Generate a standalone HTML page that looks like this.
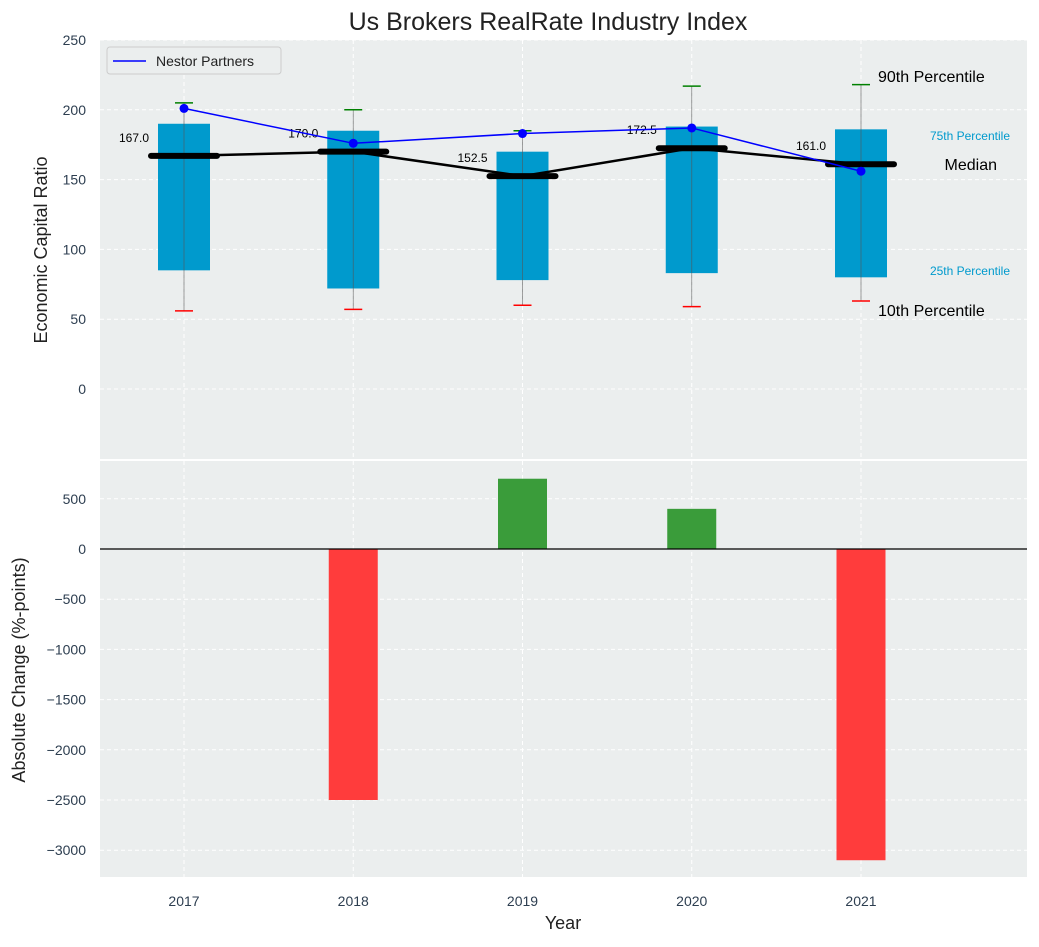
<!DOCTYPE html>
<html><head><meta charset="utf-8"><style>
body{margin:0;background:#fff;font-family:"Liberation Sans","DejaVu Sans",sans-serif}
svg text{font-family:"Liberation Sans","DejaVu Sans",sans-serif}
</style></head><body>
<svg id="chart" width="1039" height="942" xmlns="http://www.w3.org/2000/svg">
<rect width="1039" height="942" fill="#fff"/>
<text x="548" y="30" text-anchor="middle" font-size="25" fill="#222">Us Brokers RealRate Industry Index</text>
<g id="topPanel"></g>
<g id="botPanel"></g>
</svg>
<script>
const years=[2017,2018,2019,2020,2021];
const p10=[56,57,60,59,63];
const p25=[85,72,78,83,80];
const med=[167,170,152.5,172.5,161];
const p75=[190,185,170,188,186];
const p90=[205,200,185,217,218];
const nestor=[201,176,183,187,156];
const change=[0,-2500,700,400,-3100];
const topTicks=[0,50,100,150,200,250];
const botTicks=[500,0,-500,-1000,-1500,-2000,-2500,-3000];

const NS="http://www.w3.org/2000/svg";
function el(parent,tag,attrs,text){const e=document.createElementNS(NS,tag);for(const k in attrs)e.setAttribute(k,attrs[k]);if(text!==undefined)e.textContent=text;parent.appendChild(e);return e;}
const L=100,R=1027;
const x=v=>184+(v-2017)*169.25;
const yT=v=>389-v*1.396;
const yB=v=>549-v*0.1004;
const topG=document.getElementById('topPanel'),botG=document.getElementById('botPanel');

let bg=el(topG,'rect',{x:L,y:40,width:R-L,height:419,fill:'#ebeeee'});


topTicks.forEach(t=>{
  el(topG,'line',{x1:L,x2:R,y1:yT(t),y2:yT(t),stroke:'#fff','stroke-dasharray':'4,3'});
  let tx=el(topG,'text',{x:L-14,y:yT(t)+5,'text-anchor':'end','font-size':14,fill:'#2d3e50'},t);
  
  
});
years.forEach(yr=>el(topG,'line',{x1:x(yr),x2:x(yr),y1:40,y2:459,stroke:'#fff','stroke-dasharray':'4,3'}));
years.forEach((yr,i)=>{
  const cx=x(yr);
  let b=el(topG,'rect',{x:cx-26,y:yT(p75[i]),width:52,height:yT(p25[i])-yT(p75[i]),fill:'#009acd'});
  
  
  el(topG,'line',{x1:cx,x2:cx,y1:yT(p90[i]),y2:yT(p10[i]),stroke:'#555','stroke-width':0.8,opacity:0.7});
  el(topG,'line',{x1:cx-9,x2:cx+9,y1:yT(p90[i]),y2:yT(p90[i]),stroke:'green','stroke-width':1.5});
  el(topG,'line',{x1:cx-9,x2:cx+9,y1:yT(p10[i]),y2:yT(p10[i]),stroke:'red','stroke-width':1.5});
  let m=el(topG,'line',{x1:cx-33,x2:cx+33,y1:yT(med[i]),y2:yT(med[i]),stroke:'#000','stroke-width':6,'stroke-linecap':'round'});
  
  
  let ml=el(topG,'text',{x:cx-50,y:yT(med[i])-14,'text-anchor':'middle','font-size':12,fill:'#000'},med[i].toFixed(1));
  
  
});
el(topG,'polyline',{points:years.map((yr,i)=>x(yr)+','+yT(med[i])).join(' '),fill:'none',stroke:'#000','stroke-width':2.5});
let nl=el(topG,'polyline',{points:years.map((yr,i)=>x(yr)+','+yT(nestor[i])).join(' '),fill:'none',stroke:'blue','stroke-width':1.5});


years.forEach((yr,i)=>el(topG,'circle',{cx:x(yr),cy:yT(nestor[i]),r:4.5,fill:'blue'}));
[['90th Percentile',878,82,16,'#000','start'],['75th Percentile',1010,140,12,'#009acd','end'],['Median',997,170,16,'#000','end'],['25th Percentile',1010,275,12,'#009acd','end'],['10th Percentile',878,316,16,'#000','start']].forEach(a=>{
  let t=el(topG,'text',{x:a[1],y:a[2],'font-size':a[3],fill:a[4],'text-anchor':a[5]},a[0]);
  
  
});
let lg=el(topG,'g',{});


el(lg,'rect',{x:107,y:47,width:174,height:27,fill:'#ebeeee',stroke:'#ccc',rx:3});
el(lg,'line',{x1:113,x2:146,y1:61,y2:61,stroke:'blue','stroke-width':1.5});
el(lg,'text',{x:156,y:66,'font-size':14,fill:'#222'},'Nestor Partners');
let yl=el(topG,'text',{x:47,y:250,'text-anchor':'middle','font-size':18,fill:'#222',transform:'rotate(-90 47 250)'},'Economic Capital Ratio');



let bg2=el(botG,'rect',{x:L,y:461,width:R-L,height:416,fill:'#ebeeee'});


botTicks.forEach(t=>{
  el(botG,'line',{x1:L,x2:R,y1:yB(t),y2:yB(t),stroke:'#fff','stroke-dasharray':'4,3'});
  let tx=el(botG,'text',{x:L-14,y:yB(t)+5,'text-anchor':'end','font-size':14,fill:'#2d3e50'},t<0?'\u2212'+(-t):t);
  
  
});
years.forEach((yr,i)=>{
  el(botG,'line',{x1:x(yr),x2:x(yr),y1:461,y2:877,stroke:'#fff','stroke-dasharray':'4,3'});
  const v=change[i];
  let b=el(botG,'rect',{x:x(yr)-24.5,y:Math.min(yB(v),yB(0)),width:49,height:Math.abs(yB(v)-yB(0)),fill:v>=0?'#3a9c3a':'#ff3c3c'});
  
  
  let tx=el(botG,'text',{x:x(yr),y:906,'text-anchor':'middle','font-size':14,fill:'#2d3e50'},yr);
  
  
});
el(botG,'line',{x1:L,x2:R,y1:yB(0),y2:yB(0),stroke:'#000','stroke-width':1.2});
let xl=el(botG,'text',{x:563,y:929,'text-anchor':'middle','font-size':18,fill:'#222'},'Year');


let yl2=el(botG,'text',{x:25,y:670,'text-anchor':'middle','font-size':18,fill:'#222',transform:'rotate(-90 25 670)'},'Absolute Change (%-points)');


</script>
</body></html>
